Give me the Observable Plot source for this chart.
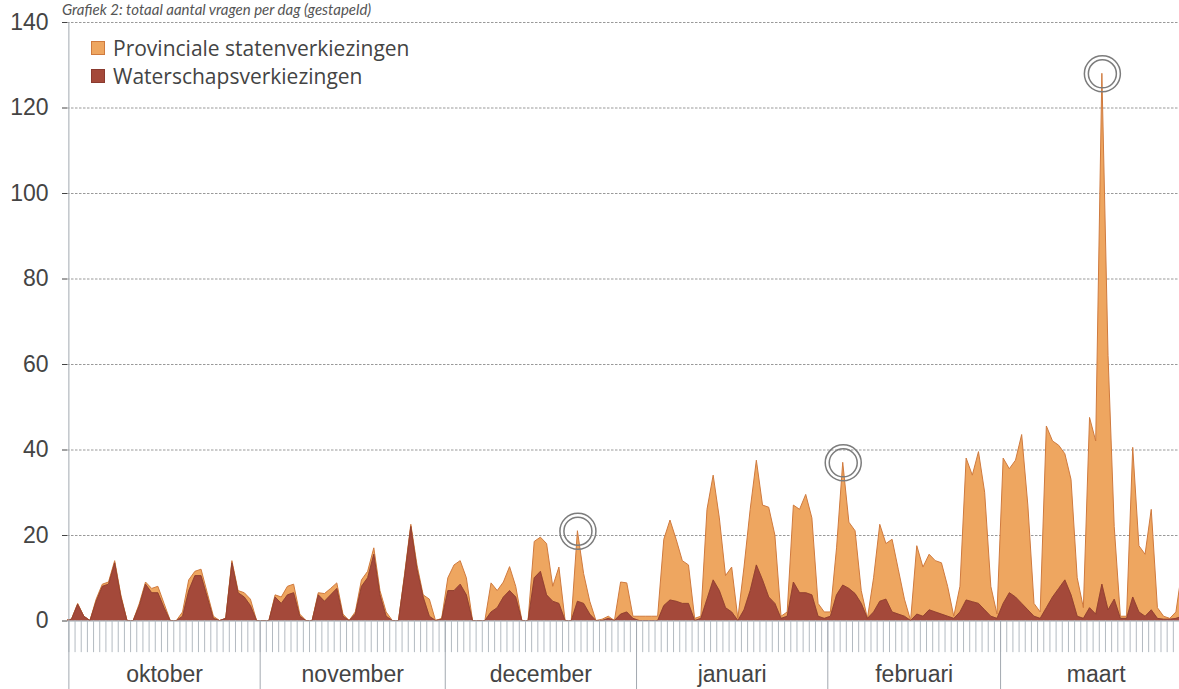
<!DOCTYPE html>
<html>
<head>
<meta charset="utf-8">
<script src="https://cdn.jsdelivr.net/npm/d3@7"></script>
<script src="https://cdn.jsdelivr.net/npm/@observablehq/plot@0.6"></script>
<style>
html, body { margin: 0; padding: 0; background: #fff; overflow: hidden; }
#wrap { position: relative; width: 1179px; height: 689px; overflow: hidden; }
#chart svg { overflow: hidden; display: block; }
#titel { position: absolute; left: 62px; top: 0px; font: italic 15px Lato, "Open Sans", sans-serif; line-height: 18px; color: #555; white-space: nowrap; }
#legenda { position: absolute; left: 91px; top: 34px; font: 21px "Open Sans", Lato, sans-serif; color: #444; }
.rij { display: flex; align-items: center; height: 28px; }
.vak { width: 14px; height: 14px; margin-right: 8px; box-sizing: border-box; }
</style>
</head>
<body>
<div id="wrap">
  <div id="chart"></div>
  <div id="titel">Grafiek 2: totaal aantal vragen per dag (gestapeld)</div>
  <div id="legenda"></div>
</div>
<script>
// ---- data ----
const reeksen = ["Provinciale statenverkiezingen", "Waterschapsverkiezingen"];
const maanden = ["oktober", "november", "december", "januari", "februari", "maart"];
const maandLengte = [31, 30, 31, 31, 28, 31];
const yTicks = [0, 20, 40, 60, 80, 100, 120, 140];

// daily values, 1 Oct 2014 onwards (index = day)
const waterschap = [
  0, 0.3, 3.8, 1, 0, 4.5, 8, 8.5, 13.5, 5.5,
  0, 0, 3.5, 8.5, 6.5, 6.5, 3, 0, 0, 1,
  7, 10.5, 10.5, 5.5, 0.5, 0, 0.5, 13.5, 6.5, 5.5,
  3.5, 0, 0, 0, 5.5, 4, 6, 6.5, 1, 0,
  0, 6, 4.5, 6, 7.5, 1, 0, 1.5, 8, 10,
  15.5, 6, 1, 0, 0, 10.5, 22, 12, 5.5, 1,
  0, 0.3, 7, 7, 8.5, 6, 0, 0, 0, 2,
  3, 5.5, 7, 5.5, 0, 0, 10, 11.5, 6, 4.5,
  4, 0, 0, 4.5, 4, 1.5, 0, 0, 0.5, 0,
  1.5, 2, 0.5, 0, 0, 0, 0, 3.5, 4.8, 4.5,
  4, 4, 0, 0.5, 5, 9.5, 7, 3, 2, 0,
  2.5, 7, 13, 9.5, 5.5, 4, 0.5, 1, 9, 6.5,
  6.5, 6, 1, 0.5, 1, 6, 8.3, 7.5, 6.3, 4,
  0.5, 2, 4.5, 5, 2, 1.5, 1, 0, 1.5, 1,
  2.5, 2, 1.5, 1, 0.5, 2, 4.8, 4.4, 4, 2.5,
  1, 0.5, 4, 6.5, 5.5, 4, 2.5, 1, 0.5, 3,
  5.5, 7.5, 9.5, 6, 1, 0.5, 3, 1.5, 8.5, 2.5,
  5, 0.5, 0.5, 5.5, 2, 1, 2.5, 0.5, 0.3, 0.3,
  0.5, 1
];
const provinciale = [
  0, 0, 0.2, 0, 0, 0.5, 0.5, 0.5, 0.5, 0.5,
  0, 0, 0.5, 0.5, 1, 1.5, 1, 0, 0, 1,
  2.5, 1, 1.5, 1, 0.5, 0, 0, 0.5, 0.5, 1,
  1.5, 0, 0, 0, 0.5, 1.5, 2, 2, 0.5, 0,
  0, 0.5, 1.8, 1.5, 1.3, 0.5, 0, 0.5, 1.5, 1.5,
  1.5, 1, 1, 0, 0, 0.5, 0.5, 1, 0.5, 4,
  0, 0.2, 3, 6, 5.5, 4, 0, 0, 0, 6.8,
  4, 3.5, 5.6, 2.5, 0, 0, 8.5, 8, 12, 3.5,
  8.5, 0, 0, 16.5, 7, 3, 0, 0.3, 0.5, 0,
  7.5, 6.8, 0.5, 1, 1, 1, 1, 15.5, 18.7, 14.5,
  10, 9, 0.5, 0.5, 21, 24.5, 17, 7.5, 10.5, 0.5,
  10, 19, 24.5, 17.5, 21, 16, 0.5, 1, 18, 19.5,
  23, 18, 3, 1.5, 1, 11, 28.7, 15.5, 14.7, 3,
  0, 8, 18, 13, 17, 10.5, 4, 0, 16, 11.5,
  13, 12, 12, 7, 0.5, 6, 33.2, 29.6, 35.5, 27.5,
  7, 1, 34, 29, 32, 39.5, 24.5, 3, 1.5, 42.5,
  36.5, 33.5, 29.5, 27, 9, 2.5, 44.5, 40.5, 119.5, 59.5,
  17, 0.5, 0.5, 35, 15.5, 14.5, 23.5, 2.5, 0.7, 0.2,
  1.5, 11
];
// days that are circled in the chart
const gemarkeerd = [83, 126, 168];

// ---- styling ----
const oranje = "#eea660", oranjeRand = "#cf7a3e";
const bruin = "#a4493a", bruinRand = "#8a3a2f";

// ---- build tables ----
const dagen = waterschap.map((_, i) => i);
const rijen = dagen.map(i => ({dag: i, w: waterschap[i], p: provinciale[i]}));
let begin = 0;
const maandRijen = maanden.map((naam, j) => {
  const r = {naam, begin, lengte: maandLengte[j]};
  begin += maandLengte[j];
  return r;
});
const dagGrenzen = dagen.filter(i => i <= 180);

const plot = Plot.plot({
  width: 1179,
  height: 689,
  marginLeft: 67,
  marginRight: 0,
  marginTop: 22,
  marginBottom: 68.5,
  style: {fontFamily: "'Liberation Sans', Arial, sans-serif", fontSize: "23px", color: "#444", background: "#fff"},
  x: {type: "linear", domain: [0.275, 180.5], axis: null},
  y: {domain: [0, 140], ticks: yTicks, tickSize: 5, tickPadding: 14, label: null},
  marks: [
    Plot.ruleY(yTicks.filter(v => v > 0), {stroke: "#999", strokeDasharray: "2.5,1.5", strokeWidth: 1}),
    Plot.areaY(rijen, {x: "dag", y1: "w", y2: d => d.w + d.p, fill: oranje, stroke: oranjeRand, strokeWidth: 1, clip: true}),
    Plot.areaY(rijen, {x: "dag", y1: 0, y2: "w", fill: bruin, stroke: bruinRand, strokeWidth: 0.8, clip: true}),
    Plot.ruleY([0], {stroke: "#9aa3ab", strokeWidth: 1}),
    Plot.ruleX(dagGrenzen, {x: d => d + 0.5, y1: -7.4, y2: 0, stroke: "#b3bac1", strokeWidth: 1}),
    Plot.ruleX(maandRijen, {x: d => d.begin + 0.5, y1: -16.2, y2: 0, stroke: "#a3a9b0", strokeWidth: 1}),
    Plot.ruleX(maandRijen.slice(0, 1), {x: d => d.begin + 0.5, y1: 0, y2: 140, stroke: "#a3a9b0", strokeWidth: 1}),
    Plot.text(maandRijen, {x: d => d.begin + 0.5 + d.lengte / 2, y: -12.6, text: "naam", fontSize: 23, fill: "#444"}),
    Plot.dot(gemarkeerd, {x: d => d, y: d => waterschap[d] + provinciale[d], r: 18, stroke: "#7c7c7c", strokeWidth: 1.5}),
    Plot.dot(gemarkeerd, {x: d => d, y: d => waterschap[d] + provinciale[d], r: 14, stroke: "#7c7c7c", strokeWidth: 1.5})
  ]
});
document.getElementById("chart").appendChild(plot);

// legend
const kleuren = [[oranje, oranjeRand], [bruin, bruinRand]];
const leg = document.getElementById("legenda");
reeksen.forEach((naam, i) => {
  const rij = document.createElement("div");
  rij.className = "rij";
  const vak = document.createElement("div");
  vak.className = "vak";
  vak.style.background = kleuren[i][0];
  vak.style.border = "1px solid " + kleuren[i][1];
  const t = document.createElement("span");
  t.textContent = naam;
  rij.appendChild(vak);
  rij.appendChild(t);
  leg.appendChild(rij);
});
</script>
</body>
</html>
